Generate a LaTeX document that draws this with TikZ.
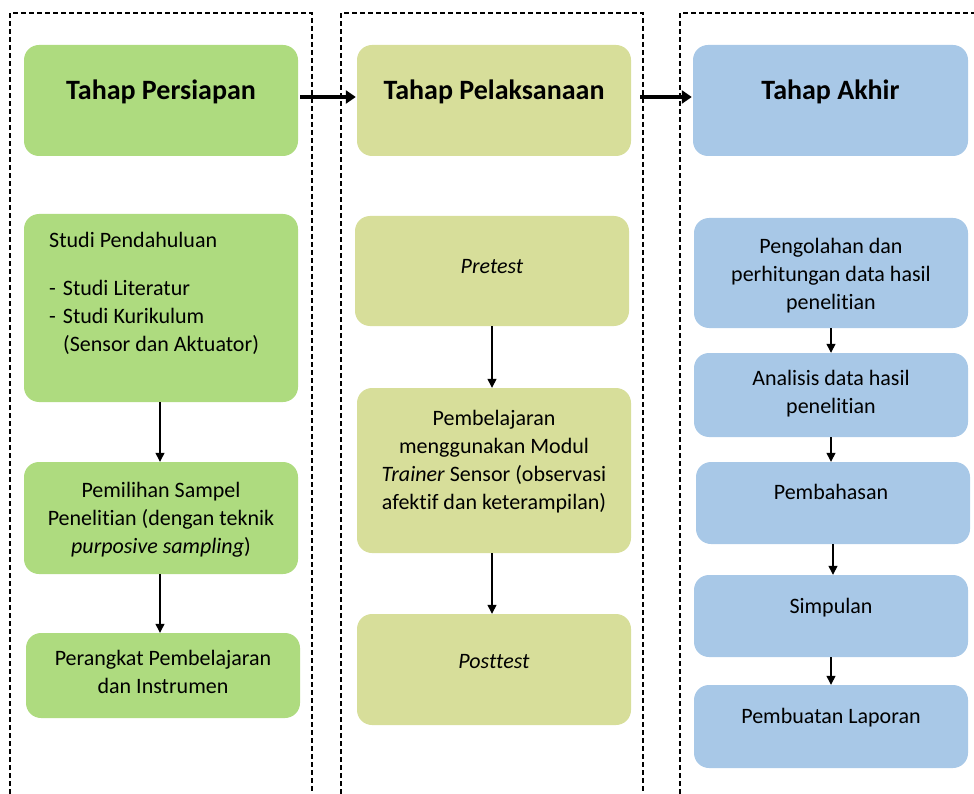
\documentclass[tikz,border=0pt]{standalone}
\usepackage{fontspec}
\setmainfont{Carlito}[Ligatures=CommonOff]
\usetikzlibrary{arrows.meta}
\definecolor{gfill}{RGB}{174,219,127}
\definecolor{ofill}{RGB}{215,222,154}
\definecolor{bfill}{RGB}{168,200,231}
\tikzset{
  card/.style={rounded corners=15pt, draw=none, inner sep=0pt, minimum width=274pt},
  gbox/.style={card, fill=gfill},
  obox/.style={card, fill=ofill},
  bbox/.style={card, fill=bfill},
  ttl/.style={font=\fontsize{28}{32}\selectfont\bfseries, anchor=base, inner sep=0pt},
  txt/.style={font=\fontsize{22}{28}\selectfont, align=center, anchor=base, inner sep=0pt},
  frame/.style={draw=black, line width=1.1pt, dash pattern=on 5pt off 3pt},
  varrow/.style={draw=black, line width=1.3pt, -{Triangle[length=9pt,width=9pt]}},
  harrow/.style={draw=black, line width=3.5pt, -{Triangle[length=10pt,width=13pt]}}
}
\begin{document}
\begin{tikzpicture}[x=1pt,y=-1pt]
\useasboundingbox (0,0) rectangle (974,794);
% dashed frames
\draw[frame] (10,794) -- (10,13) -- (312,13) -- (312,794);
\draw[frame] (341,794) -- (341,13) -- (643,13) -- (643,794);
\draw[frame] (680,794) -- (680,13) -- (974,13);
% left column
\node[gbox, minimum height=111pt] (p1) at (161,100.5) {};
\node[gbox, minimum height=188pt] (p2) at (161,308) {};
\node[gbox, minimum height=112pt] (p3) at (161,518) {};
\node[gbox, minimum height=85pt] (p4) at (163,675.5) {};
% middle column
\node[obox, minimum height=111pt] (m1) at (494,100.5) {};
\node[obox, minimum height=110pt] (m2) at (492,271) {};
\node[obox, minimum height=165pt] (m3) at (494,470.5) {};
\node[obox, minimum height=111pt] (m4) at (494,669.5) {};
% right column
\node[bbox, minimum height=111pt, minimum width=275pt] (r1) at (830.5,100.5) {};
\node[bbox, minimum height=110pt] (r2) at (831,273) {};
\node[bbox, minimum height=84pt] (r3) at (831,395) {};
\node[bbox, minimum height=82pt] (r4) at (833,503) {};
\node[bbox, minimum height=82pt] (r5) at (831,616) {};
\node[bbox, minimum height=83pt] (r6) at (831,726.5) {};
% texts (base anchor = baseline of the last line)
\node[ttl] (tp1) at (161,100) {Tahap Persiapan};
\node[ttl] (tm1) at (494,100) {Tahap Pelaksanaan};
\node[ttl] (tr1) at (830.5,100) {Tahap Akhir};
\node[txt, anchor=base west] (tp2a) at (49,248) {Studi Pendahuluan};
\node[txt, anchor=base west] (tp2b) at (49,295) {-\hspace{7pt}Studi Literatur};
\node[txt, anchor=base west] (tp2c) at (49,323) {-\hspace{7pt}Studi Kurikulum};
\node[txt, anchor=base west] (tp2d) at (63,351) {(Sensor dan Aktuator)};
\node[txt] (tp3) at (161,553) {Pemilihan Sampel\\Penelitian (dengan teknik\\\textit{purposive sampling})};
\node[txt] (tp4) at (163,693) {Perangkat Pembelajaran\\dan Instrumen};
\node[txt] (tm2) at (492,273) {\textit{Pretest}};
\node[txt] (tm3) at (494,509) {Pembelajaran\\menggunakan Modul\\\textit{Trainer} Sensor (observasi\\afektif dan keterampilan)};
\node[txt] (tm4) at (494,668) {\textit{Posttest}};
\node[txt] (tr2) at (831,309) {Pengolahan dan\\perhitungan data hasil\\penelitian};
\node[txt] (tr3) at (831,413) {Analisis data hasil\\penelitian};
\node[txt] (tr4) at (831,499) {Pembahasan};
\node[txt] (tr5) at (831,613) {Simpulan};
\node[txt] (tr6) at (831,723) {Pembuatan Laporan};
% arrows
\draw[harrow] ([yshift=3.5pt,xshift=2pt]p1.east) -- ([yshift=3.5pt,xshift=-1pt]m1.west);
\draw[harrow] ([yshift=3.5pt,xshift=9pt]m1.east) -- ([yshift=3.5pt,xshift=-1pt]r1.west);
\draw[varrow] ([xshift=-1pt]p2.south) -- ([xshift=-1pt]p2.south |- p3.north);
\draw[varrow] ([xshift=-1pt]p3.south) -- ([xshift=-1pt]p3.south |- p4.north);
\draw[varrow] (m2.south) -- (m2.south |- m3.north);
\draw[varrow] ([xshift=-2pt]m3.south) -- ([xshift=-2pt]m3.south |- m4.north);
\draw[varrow] (r2.south) -- (r2.south |- r3.north);
\draw[varrow] (r3.south) -- (r3.south |- r4.north);
\draw[varrow] (r4.south) -- (r4.south |- r5.north);
\draw[varrow] (r5.south) -- (r5.south |- r6.north);
\end{tikzpicture}
\end{document}
